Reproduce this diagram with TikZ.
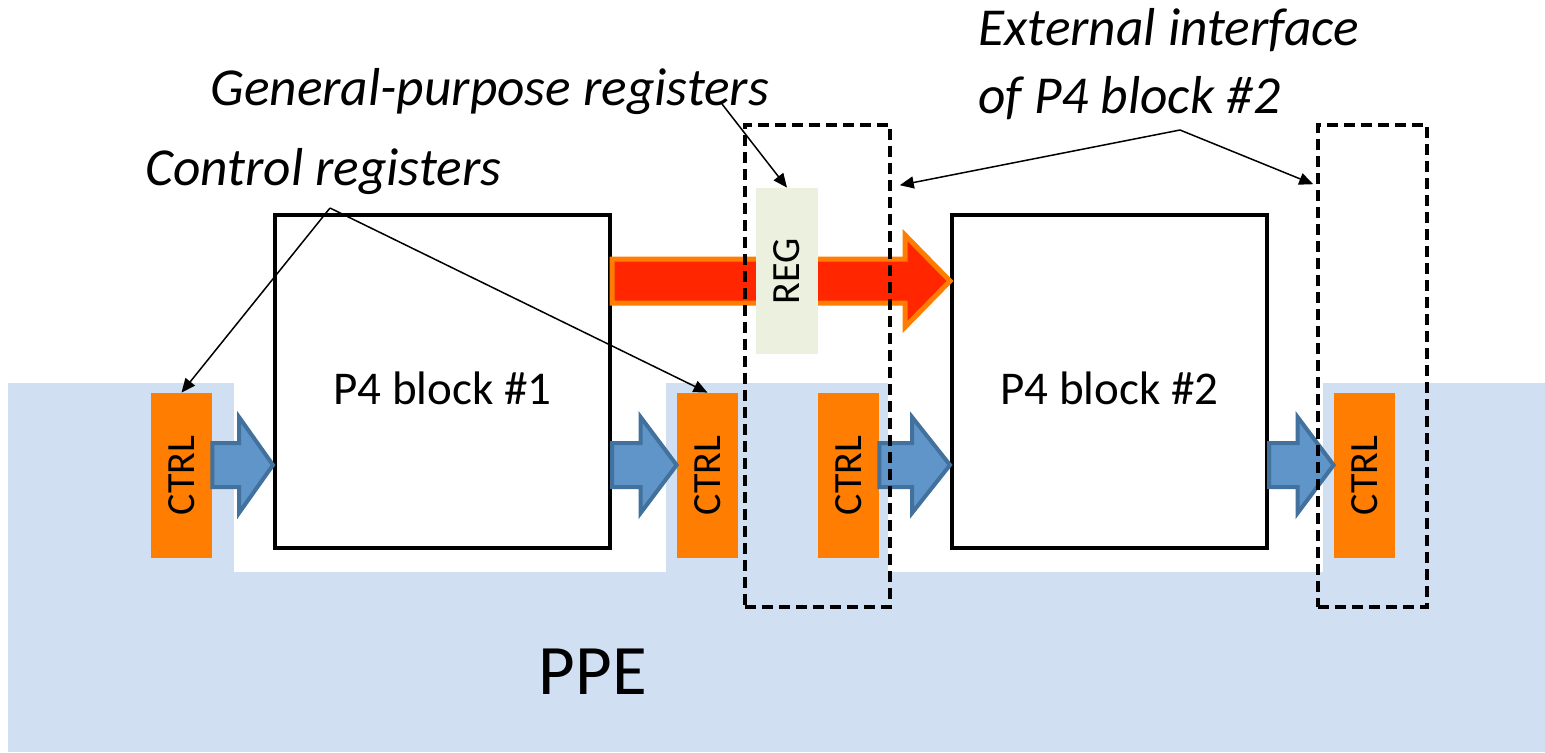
\documentclass[tikz,border=0pt]{standalone}
\usepackage{fontspec}
\setmainfont{Carlito}
\usepackage{graphicx}
\usetikzlibrary{arrows.meta,calc}

\definecolor{ppeblue}{RGB}{208,224,242}
\definecolor{ctrlorange}{RGB}{255,125,0}
\definecolor{regfill}{RGB}{235,241,222}
\definecolor{busred}{RGB}{255,38,0}
\definecolor{busedge}{RGB}{255,125,0}
\definecolor{flowblue}{RGB}{96,149,201}
\definecolor{flowedge}{RGB}{65,113,156}

\tikzset{
  blockbox/.style={draw=black, line width=2pt, fill=white, minimum height=166.5pt,
    font=\fontsize{23.5}{28}\selectfont},
  ctrlbox/.style={fill=ctrlorange, minimum width=30.5pt, minimum height=82.5pt,
    inner sep=0pt, font=\fontsize{20}{24}\selectfont},
  regbox/.style={fill=regfill, minimum width=31pt, minimum height=83pt,
    inner sep=0pt, font=\fontsize{20}{24}\selectfont},
  dashbox/.style={draw=black, line width=1.8pt, dash pattern=on 5.5pt off 3pt,
    minimum height=241pt},
  bluearrow/.style={fill=flowblue, draw=flowedge, line width=2pt},
  redarrow/.style={fill=busred, draw=busedge, line width=2.5pt},
  lbl/.style={inner sep=0pt, anchor=west, font=\fontsize{26.7}{34}\selectfont\itshape},
  conn/.style={black, line width=0.75pt, -{Triangle[length=7pt, width=6pt]}}
}

% fat arrow: style, from, to, head length, half shaft, half head
\newcommand\fatarrow[6]{%
  \path[#1] let \p1=(#2), \p2=(#3) in
    (\x1,\y1+#5) -- (\x2-#4,\y1+#5) -- (\x2-#4,\y1+#6) -- (\x2,\y1)
    -- (\x2-#4,\y1-#6) -- (\x2-#4,\y1-#5) -- (\x1,\y1-#5) -- cycle;
}
\newcommand\lowtext[1]{\raisebox{-3.5pt}[\height][\depth]{#1}}

\begin{document}
\begin{tikzpicture}[x=0.5pt,y=-0.5pt]
\useasboundingbox (0,0) rectangle (1545,752);
% PPE area
\fill[ppeblue] (8,383) rectangle (1545,752);
\fill[white] (234,383) rectangle (666,572);
\fill[white] (888,383) rectangle (1323,572);
\node[font=\fontsize{35.5}{40}\selectfont] (ppe) at (593,672) {PPE};

% P4 blocks
\node[blockbox, minimum width=167.5pt] (blk1) at (442.5,381.5) {\lowtext{P4 block \#1}};
\node[blockbox, minimum width=157.5pt] (blk2) at (1109.5,381.5) {\lowtext{P4 block \#2}};

\coordinate (bluelane) at (0,465);
\coordinate (redlane) at (0,281);

% register path
\fatarrow{redarrow}{blk1.east |- redlane}{blk2.west}{22.5pt}{11pt}{23pt}
\node[regbox] (reg) at (787,271) {\rotatebox{90}{REG}};

% control path
\node[ctrlbox] (ctrl1) at (181.5,475.5) {\rotatebox{90}{CTRL}};
\node[ctrlbox] (ctrl2) at (707.5,475.5) {\rotatebox{90}{CTRL}};
\node[ctrlbox] (ctrl3) at (848.5,475.5) {\rotatebox{90}{CTRL}};
\node[ctrlbox] (ctrl4) at (1364.5,475.5) {\rotatebox{90}{CTRL}};
\fatarrow{bluearrow}{ctrl1.east |- bluelane}{blk1.west}{17pt}{11pt}{24pt}
\fatarrow{bluearrow}{blk1.east |- bluelane}{ctrl2.west}{18pt}{11pt}{24pt}
\fatarrow{bluearrow}{ctrl3.east |- bluelane}{blk2.west}{19pt}{11pt}{24pt}
\fatarrow{bluearrow}{blk2.east |- bluelane}{ctrl4.west}{18pt}{11pt}{24pt}

% external interface
\node[dashbox, minimum width=72.5pt] (dash1) at (817.5,366) {};
\node[dashbox, minimum width=54.5pt] (dash2) at (1372.5,366) {};

% labels
\node[lbl] (ctrllbl) at (145,172) {Control registers};
\node[lbl] (gprlbl) at (210,92) {General-purpose registers};
\node[lbl, align=left] (extlbl) at (978,64) {External interface\\of P4 block \#2};

\coordinate (ctrlfork) at (330,208);
\coordinate (gprfork) at (722,104);
\coordinate (extfork) at (1180,130);
\draw[conn] (ctrlfork) -- (ctrl1.north);
\draw[conn] (ctrlfork) -- (ctrl2.north);
\draw[conn] (gprfork) -- (reg.north);
\draw[conn] (extfork) -- ([shift={(8,62)}]dash1.north east);
\draw[conn] (extfork) -- ([shift={(-3,61)}]dash2.north west);
\end{tikzpicture}
\end{document}
